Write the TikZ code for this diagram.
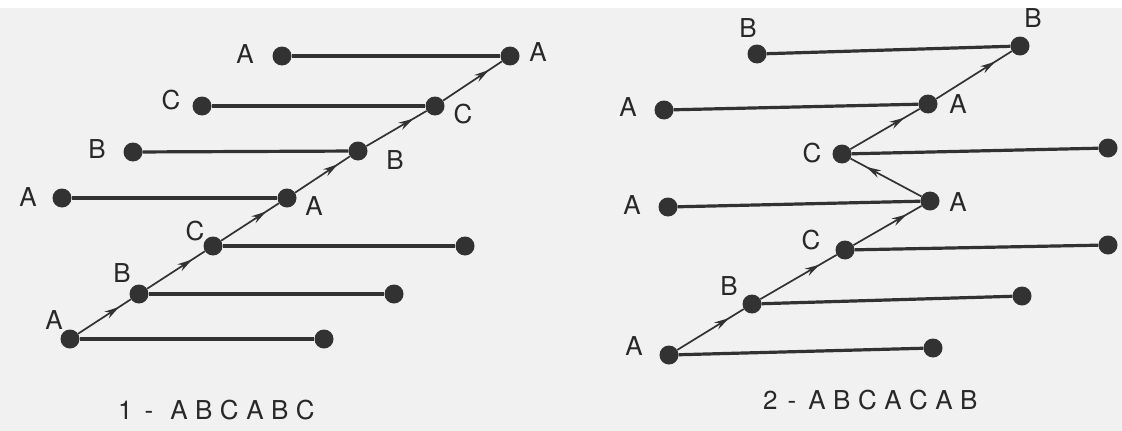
\documentclass[tikz,border=0pt]{standalone}
\usepackage{fontspec}
\setmainfont{TeX Gyre Heros}
\usetikzlibrary{arrows.meta,decorations.markings}
\definecolor{paper}{RGB}{241,241,241}
\definecolor{ink}{RGB}{50,50,50}
\definecolor{txt}{RGB}{40,40,40}
\tikzset{
  dot/.style={circle,fill=ink,draw=none,minimum size=19pt,inner sep=0pt},
  bar/.style={draw=ink,line width=3.2pt},
  seg/.style={draw=ink,line width=1.7pt,postaction={decorate},
    decoration={markings,mark=at position 0.78 with {\arrow{Stealth[length=15pt,width=8pt]}}}},
  lab/.style={text=txt,inner sep=0pt,font=\fontsize{26}{30}\selectfont},
  capt/.style={text=txt,inner sep=0pt,anchor=base west,font=\fontsize{26}{30}\selectfont}
}
\newcommand{\lsp}{\hspace{7.5pt}}
\begin{document}
\begin{tikzpicture}[x=1pt,y=-1pt]
\fill[paper] (0,8) rectangle (1122,431);
\useasboundingbox (0,0) rectangle (1122,431);
% ---------- left diagram ----------
\node[dot] (l1a) at (282,56) {};
\node[dot] (l1b) at (510,56) {};
\node[dot] (l2a) at (202,106) {};
\node[dot] (l2b) at (435,106) {};
\node[dot] (l3a) at (133,152) {};
\node[dot] (l3b) at (358,151) {};
\node[dot] (l4a) at (62,198) {};
\node[dot] (l4b) at (287,198) {};
\node[dot] (l5a) at (213,246) {};
\node[dot] (l5b) at (465,246) {};
\node[dot] (l6a) at (139,294) {};
\node[dot] (l6b) at (394,294) {};
\node[dot] (l7a) at (70,339) {};
\node[dot] (l7b) at (324,339) {};
\foreach \r in {1,...,7} {\draw[bar] (l\r a) -- (l\r b);}
\draw[seg] (l7a) -- (l6a);
\draw[seg] (l6a) -- (l5a);
\draw[seg] (l5a) -- (l4b);
\draw[seg] (l4b) -- (l3b);
\draw[seg] (l3b) -- (l2b);
\draw[seg] (l2b) -- (l1b);
\node[lab] (tl1a) at (245,54) {A};
\node[lab] (tl1b) at (538,52) {A};
\node[lab] (tl2a) at (171,100) {C};
\node[lab] (tl2b) at (463,114) {C};
\node[lab] (tl3a) at (97,149) {B};
\node[lab] (tl3b) at (395,160) {B};
\node[lab] (tl4a) at (28,197) {A};
\node[lab] (tl4b) at (314,206) {A};
\node[lab] (tl5a) at (195,231) {C};
\node[lab] (tl6a) at (122,273) {B};
\node[lab] (tl7a) at (54,320) {A};
\node[capt] (cap1) at (118,419) {1\hspace{12pt}-\hspace{17pt}A\lsp B\lsp C\lsp A\lsp B\lsp C};
% ---------- right diagram ----------
\node[dot] (r1a) at (757,54) {};
\node[dot] (r1b) at (1020,46) {};
\node[dot] (r2a) at (664,110) {};
\node[dot] (r2b) at (928,104) {};
\node[dot] (r3a) at (842,154) {};
\node[dot] (r3b) at (1108,148) {};
\node[dot] (r4a) at (668,207) {};
\node[dot] (r4b) at (930,201) {};
\node[dot] (r5a) at (845,250) {};
\node[dot] (r5b) at (1108,245) {};
\node[dot] (r6a) at (752,304) {};
\node[dot] (r6b) at (1022,296) {};
\node[dot] (r7a) at (669,355) {};
\node[dot] (r7b) at (933,348) {};
\foreach \r in {1,...,7} {\draw[bar] (r\r a) -- (r\r b);}
\draw[seg] (r7a) -- (r6a);
\draw[seg] (r6a) -- (r5a);
\draw[seg] (r5a) -- (r4b);
\draw[seg] (r4b) -- (r3a);
\draw[seg] (r3a) -- (r2b);
\draw[seg] (r2b) -- (r1b);
\node[lab] (tr1a) at (748,28) {B};
\node[lab] (tr1b) at (1033,18) {B};
\node[lab] (tr2a) at (628,107) {A};
\node[lab] (tr2b) at (958,104) {A};
\node[lab] (tr3a) at (812,153) {C};
\node[lab] (tr4a) at (632,205) {A};
\node[lab] (tr4b) at (958,202) {A};
\node[lab] (tr5a) at (811,240) {C};
\node[lab] (tr6a) at (729,286) {B};
\node[lab] (tr7a) at (634,346) {A};
\node[capt] (cap2) at (763,409) {2\hspace{10pt}-\hspace{12pt}A\lsp B\lsp C\lsp A\lsp C\lsp A\lsp B};
\end{tikzpicture}
\end{document}
